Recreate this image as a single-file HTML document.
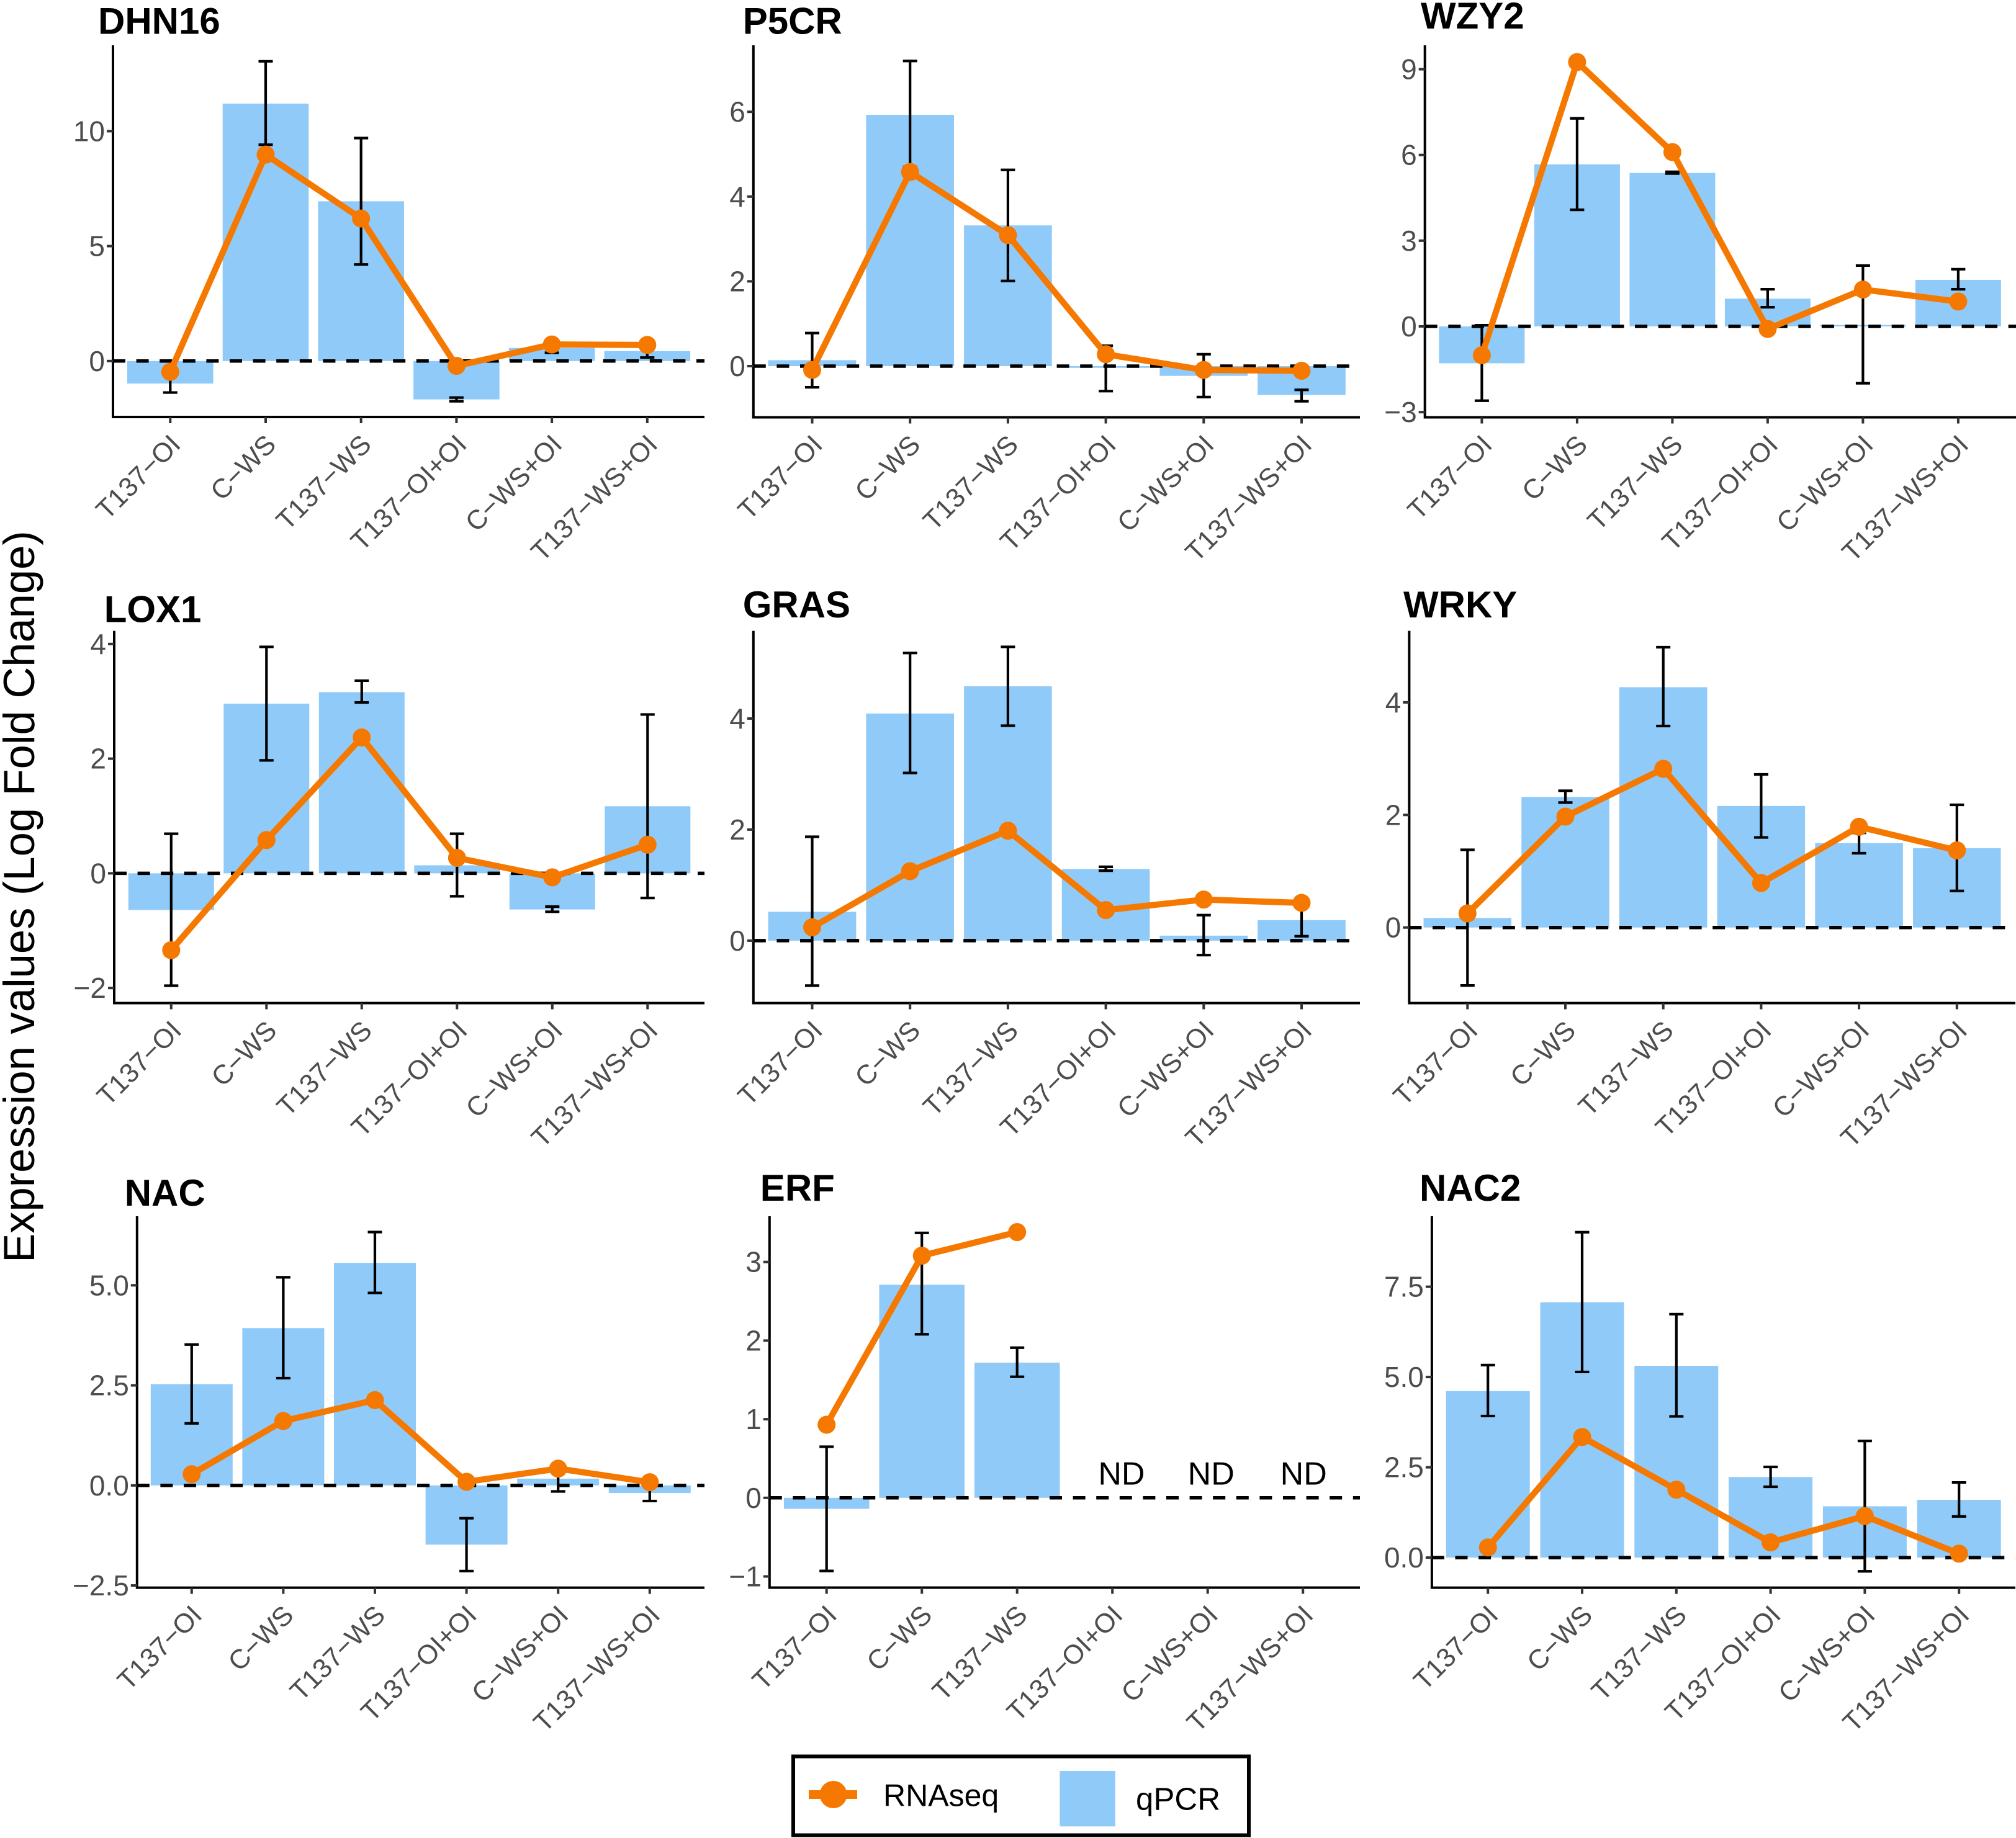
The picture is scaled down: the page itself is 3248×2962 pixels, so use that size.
<!DOCTYPE html>
<html lang="en">
<head>
<meta charset="utf-8">
<title>Expression values RNAseq vs qPCR</title>
<style>
html,body{margin:0;padding:0;background:#fff;}
svg{display:block;font-family:"Liberation Sans",Arial,sans-serif;}
</style>
</head>
<body>
<svg id="chart" xmlns="http://www.w3.org/2000/svg" width="3248" height="2962" viewBox="0 0 3248 2962">
<rect x="0" y="0" width="3248" height="2962" fill="#ffffff"/>
<text transform="translate(55,1445) rotate(-90)" text-anchor="middle" font-size="70.5" fill="#000">Expression values (Log Fold Change)</text>
<g id="panels"></g>
<g>
<rect x="1278" y="2830.5" width="734" height="127" fill="#fff" stroke="#000" stroke-width="6"/>
<g>
<rect x="1303" y="2885" width="78" height="14" fill="#F57800"/>
<circle cx="1342.6" cy="2892" r="22" fill="#F57800"/>
<text x="1423" y="2910.7" font-size="50" fill="#000">RNAseq</text>
</g>
<g>
<rect x="1707.4" y="2854" width="89.4" height="89.3" fill="#90CAF9"/>
<text x="1830" y="2916.7" font-size="51" fill="#000">qPCR</text>
</g>
</g>
</svg>
<script>
// ---- data ----
const categories = ["T137\u2212OI","C\u2212WS","T137\u2212WS","T137\u2212OI+OI","C\u2212WS+OI","T137\u2212WS+OI"];

const dhn16Qpcr  = [-0.98, 11.2, 6.95, -1.67, 0.57, 0.43];
const dhn16Rna   = [-0.47, 8.98, 6.2, -0.21, 0.72, 0.7];
const dhn16ErrHi = [-0.59, 13.04, 9.7, -1.59, 0.78, 0.7];
const dhn16ErrLo = [-1.37, 9.41, 4.2, -1.75, 0.36, 0.15];
const dhn16Ticks = [0, 5, 10];
const dhn16TickLabels = ["0","5","10"];

const p5crQpcr  = [0.14, 5.93, 3.32, -0.04, -0.23, -0.68];
const p5crRna   = [-0.09, 4.58, 3.09, 0.28, -0.09, -0.11];
const p5crErrHi = [0.78, 7.2, 4.63, 0.48, 0.28, -0.56];
const p5crErrLo = [-0.5, 4.7, 2.01, -0.59, -0.73, -0.83];
const p5crTicks = [0, 2, 4, 6];
const p5crTickLabels = ["0","2","4","6"];

const wzy2Qpcr  = [-1.29, 5.67, 5.37, 0.97, 0.05, 1.63];
const wzy2Rna   = [-1.01, 9.25, 6.1, -0.09, 1.29, 0.87];
const wzy2ErrHi = [0.04, 7.28, 5.41, 1.3, 2.13, 2.0];
const wzy2ErrLo = [-2.6, 4.08, 5.35, 0.67, -1.99, 1.3];
const wzy2Ticks = [-3, 0, 3, 6, 9];
const wzy2TickLabels = ["\u22123","0","3","6","9"];

const lox1Qpcr  = [-0.64, 2.96, 3.16, 0.14, -0.63, 1.17];
const lox1Rna   = [-1.34, 0.58, 2.37, 0.27, -0.07, 0.5];
const lox1ErrHi = [0.69, 3.95, 3.36, 0.69, -0.58, 2.77];
const lox1ErrLo = [-1.96, 1.97, 2.98, -0.4, -0.67, -0.43];
const lox1Ticks = [-2, 0, 2, 4];
const lox1TickLabels = ["\u22122","0","2","4"];

const grasQpcr  = [0.52, 4.09, 4.58, 1.29, 0.09, 0.37];
const grasRna   = [0.24, 1.25, 1.98, 0.55, 0.74, 0.68];
const grasErrHi = [1.87, 5.18, 5.29, 1.33, 0.46, 0.66];
const grasErrLo = [-0.81, 3.02, 3.87, 1.26, -0.26, 0.08];
const grasTicks = [0, 2, 4];
const grasTickLabels = ["0","2","4"];

const wrkyQpcr  = [0.17, 2.32, 4.27, 2.16, 1.5, 1.41];
const wrkyRna   = [0.25, 1.97, 2.82, 0.79, 1.79, 1.37];
const wrkyErrHi = [1.38, 2.43, 4.98, 2.72, 1.68, 2.18];
const wrkyErrLo = [-1.03, 2.22, 3.58, 1.6, 1.32, 0.65];
const wrkyTicks = [0, 2, 4];
const wrkyTickLabels = ["0","2","4"];

const nacQpcr  = [2.53, 3.93, 5.56, -1.48, 0.17, -0.19];
const nacRna   = [0.28, 1.61, 2.13, 0.09, 0.42, 0.08];
const nacErrHi = [3.52, 5.2, 6.33, -0.82, 0.42, 0.03];
const nacErrLo = [1.55, 2.68, 4.81, -2.14, -0.15, -0.39];
const nacTicks = [-2.5, 0, 2.5, 5];
const nacTickLabels = ["\u22122.5","0.0","2.5","5.0"];

const erfQpcr  = [-0.14, 2.71, 1.72, null, null, null];
const erfRna   = [0.93, 3.08, 3.38, null, null, null];
const erfErrHi = [0.65, 3.37, 1.91, null, null, null];
const erfErrLo = [-0.93, 2.08, 1.54, null, null, null];
const erfTicks = [-1, 0, 1, 2, 3];
const erfTickLabels = ["\u22121","0","1","2","3"];

const nac2Qpcr  = [4.61, 7.07, 5.31, 2.23, 1.42, 1.6];
const nac2Rna   = [0.28, 3.34, 1.88, 0.42, 1.15, 0.11];
const nac2ErrHi = [5.33, 9.01, 6.74, 2.51, 3.23, 2.08];
const nac2ErrLo = [3.92, 5.14, 3.91, 1.96, -0.38, 1.14];
const nac2Ticks = [0, 2.5, 5, 7.5];
const nac2TickLabels = ["0.0","2.5","5.0","7.5"];

// ---- panel frames: layout only, series are referenced by name ----
const panels = [
 {id:"dhn16",title:"DHN16",tx:158,ty:54.5,left:182,right:1135,top:73,bottom:672,zero:581.8,unit:37.04,first:274.3,step:153.7,bw:138.6,q:dhn16Qpcr,r:dhn16Rna,hi:dhn16ErrHi,lo:dhn16ErrLo,ticks:dhn16Ticks,labels:dhn16TickLabels},
 {id:"p5cr",title:"P5CR",tx:1196.7,ty:54.5,left:1213.8,right:2191,top:73,bottom:672.5,zero:590,unit:68.3,first:1308.5,step:157.7,bw:141.7,q:p5crQpcr,r:p5crRna,hi:p5crErrHi,lo:p5crErrLo,ticks:p5crTicks,labels:p5crTickLabels},
 {id:"wzy2",title:"WZY2",tx:2289,ty:46,left:2295.7,right:3248,top:73,bottom:672.5,zero:526,unit:46.05,first:2387.4,step:153.5,bw:138,q:wzy2Qpcr,r:wzy2Rna,hi:wzy2ErrHi,lo:wzy2ErrLo,ticks:wzy2Ticks,labels:wzy2TickLabels},
 {id:"lox1",title:"LOX1",tx:167.7,ty:1002.7,left:184,right:1135,top:1016.6,bottom:1616.5,zero:1407.4,unit:92.4,first:275.8,step:153.5,bw:138,q:lox1Qpcr,r:lox1Rna,hi:lox1ErrHi,lo:lox1ErrLo,ticks:lox1Ticks,labels:lox1TickLabels},
 {id:"gras",title:"GRAS",tx:1196.7,ty:994.8,left:1213.8,right:2191,top:1016.6,bottom:1616.5,zero:1515.9,unit:89.5,first:1308.5,step:157.7,bw:141.7,q:grasQpcr,r:grasRna,hi:grasErrHi,lo:grasErrLo,ticks:grasTicks,labels:grasTickLabels},
 {id:"wrky",title:"WRKY",tx:2261,ty:994.8,left:2270.4,right:3247,top:1016.6,bottom:1616.5,zero:1494.7,unit:90.7,first:2364.3,step:157.7,bw:141.5,q:wrkyQpcr,r:wrkyRna,hi:wrkyErrHi,lo:wrkyErrLo,ticks:wrkyTicks,labels:wrkyTickLabels},
 {id:"nac",title:"NAC",tx:200.7,ty:1943,left:220.8,right:1135,top:1960,bottom:2558.6,zero:2393.8,unit:64.5,first:308.8,step:147.6,bw:132,q:nacQpcr,r:nacRna,hi:nacErrHi,lo:nacErrLo,ticks:nacTicks,labels:nacTickLabels},
 {id:"erf",title:"ERF",tx:1224.8,ty:1935,left:1239.8,right:2191,top:1960,bottom:2558.5,zero:2413.8,unit:126.7,first:1331.7,step:153.5,bw:137.5,q:erfQpcr,r:erfRna,hi:erfErrHi,lo:erfErrLo,ticks:erfTicks,labels:erfTickLabels,ndShift:[0,0,0,14.7,5.5,1]},
 {id:"nac2",title:"NAC2",tx:2287,ty:1935,left:2306.9,right:3247,top:1960,bottom:2558.6,zero:2510.1,unit:58.2,first:2397.2,step:151.8,bw:135,q:nac2Qpcr,r:nac2Rna,hi:nac2ErrHi,lo:nac2ErrLo,ticks:nac2Ticks,labels:nac2TickLabels}
];

const NS = "http://www.w3.org/2000/svg";
const BLUE = "#90CAF9", ORANGE = "#F57800", AXIS_TEXT = "#4d4d4d";
const host = document.getElementById("panels");

function mk(parent, tag, props, text){
  const el = document.createElementNS(NS, tag);
  for (const k in props) el.setAttribute(k, props[k]);
  if (text !== undefined) el.textContent = text;
  parent.appendChild(el);
  return el;
}

panels.forEach(function(p){
  const xScale = function(i){ return p.first + i * p.step; };
  const yScale = function(v){ return p.zero - v * p.unit; };
  const g = mk(host, "g", {});
  
  

  // title
  const title = mk(g, "text", {x:p.tx, y:p.ty, "font-size":60, "font-weight":"bold", fill:"#000"}, p.title);
  
  

  // bars
  p.q.forEach(function(v, i){
    if (v === null) return;
    const y0 = yScale(0), y1 = yScale(v);
    const bar = mk(g, "rect", {x:xScale(i) - p.bw / 2, y:Math.min(y0, y1), width:p.bw, height:Math.abs(y1 - y0), fill:BLUE});
    
    
  });

  // error bars
  p.hi.forEach(function(v, i){
    if (v === null) return;
    const cx = xScale(i), yh = yScale(v), yl = yScale(p.lo[i]), cap = 11.5;
    const d = "M" + (cx - cap) + " " + yh + "H" + (cx + cap) + "M" + cx + " " + yh + "V" + yl + "M" + (cx - cap) + " " + yl + "H" + (cx + cap);
    const eb = mk(g, "path", {d:d, fill:"none", stroke:"#000", "stroke-width":4.2});
    
    
  });

  // zero reference line
  const zl = mk(g, "line", {x1:p.left, x2:p.right, y1:yScale(0), y2:yScale(0), stroke:"#000", "stroke-width":5.5, "stroke-dasharray":"20 17.6"});
  
  

  // axes
  const ax = mk(g, "path", {d:"M" + p.left + " " + p.top + "V" + p.bottom + "H" + p.right, fill:"none", stroke:"#000", "stroke-width":4});
  
  

  // y ticks
  p.ticks.forEach(function(t, i){
    const y = yScale(t);
    const tk = mk(g, "line", {x1:p.left - 10, x2:p.left, y1:y, y2:y, stroke:"#333", "stroke-width":4});
    
    
    const lb = mk(g, "text", {x:p.left - 13, y:y + 16, "text-anchor":"end", "font-size":46, fill:AXIS_TEXT}, p.labels[i]);
    
    
  });

  // x ticks
  categories.forEach(function(c, i){
    const x = xScale(i);
    const tk = mk(g, "line", {x1:x, x2:x, y1:p.bottom, y2:p.bottom + 10, stroke:"#333", "stroke-width":4});
    
    
    const ax0 = x + 19, ay0 = p.bottom + 47;
    const lb = mk(g, "text", {x:ax0, y:ay0, "text-anchor":"end", "font-size":43.5, fill:AXIS_TEXT, transform:"rotate(-45 " + ax0 + " " + ay0 + ")"}, c);
    
    
  });

  // RNAseq line and points
  let pts = [];
  p.r.forEach(function(v, i){ if (v !== null) pts.push(xScale(i) + "," + yScale(v)); });
  const ln = mk(g, "polyline", {points:pts.join(" "), fill:"none", stroke:ORANGE, "stroke-width":10, "stroke-linejoin":"round"});
  
  
  p.r.forEach(function(v, i){
    if (v === null) return;
    const pt = mk(g, "circle", {cx:xScale(i), cy:yScale(v), r:14.5, fill:ORANGE});
    
    
  });

  // not-detected labels
  p.q.forEach(function(v, i){
    if (v !== null) return;
    const nd = mk(g, "text", {x:xScale(i) + p.ndShift[i], y:yScale(0) - 21.3, "text-anchor":"middle", "font-size":52, fill:"#000"}, "ND");
    
    
  });
});
</script>
</body>
</html>
